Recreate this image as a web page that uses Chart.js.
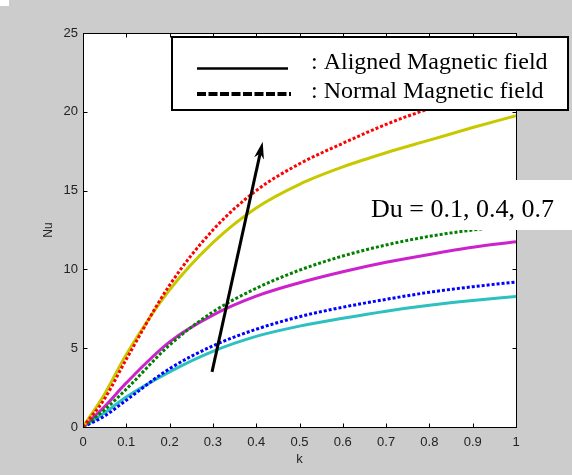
<!DOCTYPE html>
<html>
<head>
<meta charset="utf-8">
<title>Nu vs k</title>
<script src="https://cdn.jsdelivr.net/npm/chart.js@4.4.1/dist/chart.umd.min.js"></script>
<style>
  html, body { margin:0; padding:0; background:#cccccc; }
  #wrap { width:572px; height:475px; }
</style>
</head>
<body>
<div id="wrap"><canvas id="nuChart" width="572" height="475"></canvas></div>
<script>
// k values along the x axis
const kValues = [0, 0.05, 0.1, 0.2, 0.3, 0.4, 0.5, 0.6, 0.7, 0.8, 0.9, 1.0];

// Nu, aligned magnetic field (solid lines)
const alignedDu01 = [0, 0.9, 1.9, 3.5, 4.8, 5.75, 6.4, 6.9, 7.35, 7.72, 8.02, 8.28];
const alignedDu04 = [0, 1.3, 2.8, 5.4, 7.1, 8.3, 9.15, 9.85, 10.45, 10.95, 11.4, 11.75];
const alignedDu07 = [0, 2.1, 4.6, 8.7, 11.7, 13.9, 15.4, 16.5, 17.4, 18.2, 19.0, 19.75];

// Nu, normal magnetic field (dotted lines)
const normalDu01 = [0, 0.7, 1.7, 3.7, 5.15, 6.2, 7.0, 7.6, 8.1, 8.55, 8.9, 9.2];
const normalDu04 = [0, 1.1, 2.4, 5.2, 7.3, 8.8, 9.95, 10.85, 11.55, 12.1, 12.5, 12.8];
const normalDu07 = [0, 1.8, 4.3, 9.0, 12.5, 15.0, 16.7, 18.0, 19.2, 20.2, 21.0, 21.7];

// axis ticks
const xTicks = [0, 0.1, 0.2, 0.3, 0.4, 0.5, 0.6, 0.7, 0.8, 0.9, 1];
const yTicks = [0, 5, 10, 15, 20, 25];

// the "increasing Du" arrow (start -> tip, in data units)
const arrowK = [0.298, 0.415];
const arrowNu = [3.5, 18.1];

const legendLabels = [': Aligned Magnetic field', ': Normal Magnetic field'];
const duLabel = 'Du = 0.1, 0.4, 0.7';

function pts(ys){ return kValues.map((k, i) => ({ x: k, y: ys[i] })); }

function solid(label, ys, color){
  return { label, data: pts(ys), borderColor: color, borderWidth: 3, pointRadius: 0,
    cubicInterpolationMode: 'monotone', fill: false };
}
function dotted(label, ys, color){
  return { label, data: pts(ys), borderColor: color, borderWidth: 3, borderDash: [3, 2], pointRadius: 0,
    cubicInterpolationMode: 'monotone', fill: false };
}

// draws background, box, inward ticks, arrow, legend box and Du label
const framePlugin = {
  id: 'frame',
  beforeDraw(chart){
    const { ctx, chartArea: a } = chart;
    ctx.save();
    ctx.fillStyle = '#cccccc';
    ctx.fillRect(0, 0, chart.width, chart.height);
    ctx.fillStyle = '#ffffff';
    ctx.fillRect(0, 0, 9, 6);
    ctx.fillRect(a.left, a.top, a.right - a.left, a.bottom - a.top);
    ctx.restore();
  },
  afterDatasetsDraw(chart){
    const { ctx, chartArea: a, scales: { x, y } } = chart;
    const L = Math.round(a.left) + 0.5, R = Math.round(a.right) + 0.5;
    const T = Math.round(a.top) + 0.5, B = Math.round(a.bottom) + 0.5;
    ctx.save();

    // arrow
    const x0 = x.getPixelForValue(arrowK[0]), y0 = y.getPixelForValue(arrowNu[0]);
    const x1 = x.getPixelForValue(arrowK[1]), y1 = y.getPixelForValue(arrowNu[1]);
    const ang = Math.atan2(y1 - y0, x1 - x0);
    ctx.strokeStyle = '#000'; ctx.fillStyle = '#000'; ctx.lineWidth = 3;
    ctx.beginPath(); ctx.moveTo(x0, y0);
    ctx.lineTo(x1 - 8 * Math.cos(ang), y1 - 8 * Math.sin(ang)); ctx.stroke();
    ctx.beginPath();
    ctx.moveTo(x1, y1);
    ctx.lineTo(x1 - 17 * Math.cos(ang) + 5 * Math.sin(ang), y1 - 17 * Math.sin(ang) - 5 * Math.cos(ang));
    ctx.lineTo(x1 - 12 * Math.cos(ang), y1 - 12 * Math.sin(ang));
    ctx.lineTo(x1 - 17 * Math.cos(ang) - 5 * Math.sin(ang), y1 - 17 * Math.sin(ang) + 5 * Math.cos(ang));
    ctx.closePath(); ctx.fill();

    // box + inward ticks
    ctx.lineWidth = 1; ctx.strokeStyle = '#000';
    ctx.strokeRect(L, T, R - L, B - T);
    ctx.beginPath();
    xTicks.forEach(v => {
      const px = Math.round(x.getPixelForValue(v)) + 0.5;
      ctx.moveTo(px, B); ctx.lineTo(px, B - 4);
      ctx.moveTo(px, T); ctx.lineTo(px, T + 4);
    });
    yTicks.forEach(v => {
      const py = Math.round(y.getPixelForValue(v)) + 0.5;
      ctx.moveTo(L, py); ctx.lineTo(L + 4, py);
      ctx.moveTo(R, py); ctx.lineTo(R - 4, py);
    });
    ctx.stroke();

    // legend box
    ctx.fillStyle = '#ffffff';
    ctx.fillRect(172, 37, 396, 73);
    ctx.lineWidth = 2;
    ctx.strokeRect(172, 37, 396, 73);
    ctx.lineWidth = 2.5;
    ctx.beginPath(); ctx.moveTo(197, 68.5); ctx.lineTo(288, 68.5); ctx.stroke();
    ctx.lineWidth = 4; ctx.setLineDash([9, 2.5]);
    ctx.beginPath(); ctx.moveTo(197, 94); ctx.lineTo(291, 94); ctx.stroke();
    ctx.setLineDash([]);
    ctx.fillStyle = '#000';
    ctx.font = '24px "Liberation Serif", "Times New Roman", serif';
    ctx.textBaseline = 'alphabetic';
    ctx.fillText(legendLabels[0], 311, 69);
    ctx.fillText(legendLabels[1], 311, 98);

    // Du label on a white patch
    ctx.fillStyle = '#ffffff';
    ctx.fillRect(360, 180, 212, 50);
    ctx.fillStyle = '#000';
    ctx.font = '26px "Liberation Serif", "Times New Roman", serif';
    ctx.fillText(duLabel, 371, 217);
    ctx.restore();
  }
};

const tickFont = { family: '"Liberation Sans", Arial, sans-serif', size: 13 };

new Chart(document.getElementById('nuChart'), {
  type: 'line',
  data: {
    datasets: [
      dotted('Normal Du=0.7', normalDu07, '#ff0000'),
      solid('Aligned Du=0.7', alignedDu07, '#c8c800'),
      dotted('Normal Du=0.4', normalDu04, '#008000'),
      solid('Aligned Du=0.4', alignedDu04, '#cc22cc'),
      dotted('Normal Du=0.1', normalDu01, '#0000ff'),
      solid('Aligned Du=0.1', alignedDu01, '#2cc0c0')
    ]
  },
  options: {
    responsive: false,
    animation: false,
    layout: { padding: { top: 33, right: 56, left: 0, bottom: 0 } },
    plugins: { legend: { display: false }, tooltip: { enabled: false } },
    scales: {
      x: {
        type: 'linear', min: 0, max: 1,
        afterBuildTicks: s => { s.ticks = xTicks.map(v => ({ value: v })); },
        afterFit: s => { s.height = 48; },
        grid: { display: false, drawTicks: false },
        border: { display: false },
        ticks: { color: '#222', font: tickFont, padding: 8, maxRotation: 0,
          callback: v => (v === 0 || v === 1) ? String(v) : v.toFixed(1) },
        title: { display: true, text: 'k', color: '#222', font: tickFont, padding: { top: 0, bottom: 8 } }
      },
      y: {
        type: 'linear', min: 0, max: 25,
        afterBuildTicks: s => { s.ticks = yTicks.map(v => ({ value: v })); },
        afterFit: s => { s.width = 83; },
        grid: { display: false, drawTicks: false },
        border: { display: false },
        ticks: { color: '#222', font: tickFont, padding: 5 },
        title: { display: true, text: 'Nu', color: '#222', font: { family: tickFont.family, size: 12 }, padding: { top: 41, bottom: 0 } }
      }
    }
  },
  plugins: [framePlugin]
});
</script>
</body>
</html>
